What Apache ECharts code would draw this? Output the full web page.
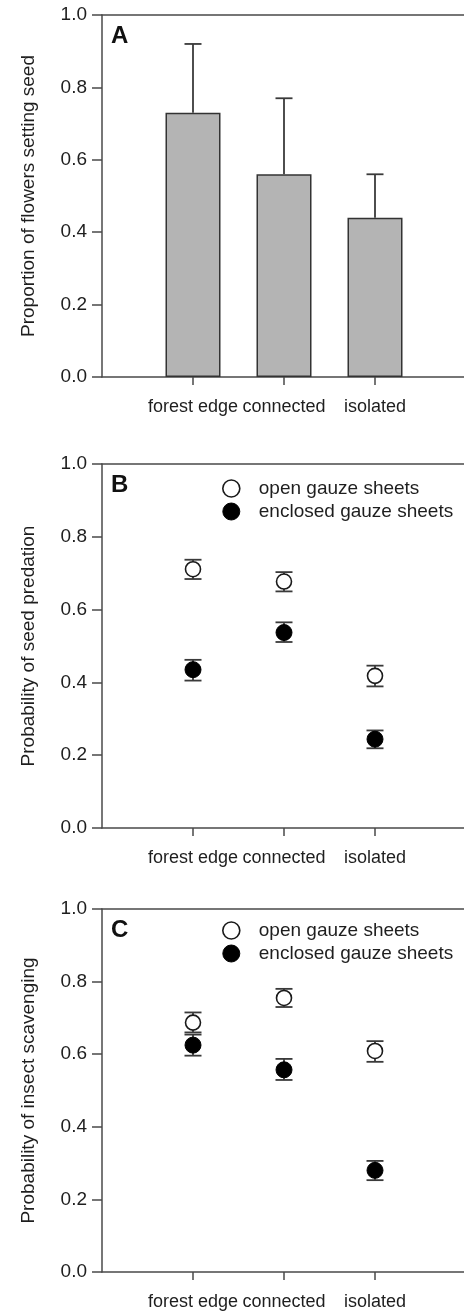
<!DOCTYPE html>
<html>
<head>
<meta charset="utf-8">
<script src="https://cdn.jsdelivr.net/npm/echarts@6/dist/echarts.min.js"></script>
<style>
html,body{margin:0;padding:0;background:#fff;}
#chart{width:464px;height:1311px;}
</style>
</head>
<body>
<div id="chart"></div>
<script>
// ---- data ----
const categories = ['forest edge', 'connected', 'isolated'];
const yTicks = [0, 0.2, 0.4, 0.6, 0.8, 1.0];

// Panel A: proportion of flowers setting seed (mean, upper error)
const seedSetMean = [0.73, 0.56, 0.44];
const seedSetUpper = [0.92, 0.77, 0.56];

// Panel B: probability of seed predation
const predOpenMean = [0.711, 0.677, 0.418];
const predOpenLow = [0.684, 0.650, 0.389];
const predOpenHigh = [0.737, 0.703, 0.446];
const predEnclMean = [0.435, 0.537, 0.244];
const predEnclLow = [0.405, 0.511, 0.219];
const predEnclHigh = [0.462, 0.565, 0.268];

// Panel C: probability of insect scavenging
const scavOpenMean = [0.687, 0.755, 0.609];
const scavOpenLow = [0.660, 0.730, 0.579];
const scavOpenHigh = [0.715, 0.780, 0.636];
const scavEnclMean = [0.625, 0.557, 0.280];
const scavEnclLow = [0.596, 0.529, 0.253];
const scavEnclHigh = [0.654, 0.587, 0.306];

const seriesNames = ['open gauze sheets', 'enclosed gauze sheets'];
const panelLetters = ['A', 'B', 'C'];
const yTitles = ['Proportion of flowers setting seed', 'Probability of seed predation', 'Probability of insect scavenging'];

// ---- styles ----
const FONT = 'Liberation Sans, Arial, Helvetica, sans-serif';
const AXIS_COLOR = '#4a4a4a';
const TEXT_COLOR = '#1e1e1e';
// categories sit at positions 1..n on an x scale running 0..n+1
const catPos = categories.map((c, i) => i + 1);
const grids = [
  {left: 102, top: 15, width: 364, height: 362, outerBoundsMode: 'none', containLabel: false},
  {left: 102, top: 464, width: 364, height: 364, outerBoundsMode: 'none', containLabel: false},
  {left: 102, top: 909, width: 364, height: 363, outerBoundsMode: 'none', containLabel: false}
];

const xAxes = [], yAxes = [];
grids.forEach((g, gi) => {
  xAxes.push({
    type: 'value', gridIndex: gi, min: 0, max: categories.length + 1, interval: 1,
    axisLine: {show: true, lineStyle: {color: AXIS_COLOR, width: 1.5}},
    axisTick: {show: true, customValues: catPos, length: 8, lineStyle: {color: AXIS_COLOR, width: 1.5}},
    axisLabel: {customValues: catPos, showMinLabel: true, showMaxLabel: true, hideOverlap: false,
      fontSize: 18, fontFamily: FONT, color: TEXT_COLOR, margin: 21,
      formatter: v => categories[Math.round(v) - 1] || ''},
    splitLine: {show: false}
  });
  xAxes.push({
    type: 'value', gridIndex: gi, position: 'top', min: 0, max: categories.length + 1,
    axisLine: {show: true, lineStyle: {color: AXIS_COLOR, width: 1.5}},
    axisTick: {show: false}, axisLabel: {show: false}, splitLine: {show: false}
  });
  yAxes.push({
    type: 'value', gridIndex: gi, min: 0, max: 1, interval: 0.2,
    name: yTitles[gi], nameLocation: 'middle', nameGap: 64,
    nameTextStyle: {fontSize: 19, fontFamily: FONT, color: TEXT_COLOR},
    axisLine: {show: true, lineStyle: {color: AXIS_COLOR, width: 1.5}},
    axisTick: {show: true, length: 10, lineStyle: {color: AXIS_COLOR, width: 1.5}},
    axisLabel: {fontSize: 19, fontFamily: FONT, color: TEXT_COLOR, margin: 15,
      formatter: v => v.toFixed(1)},
    splitLine: {show: false}
  });
});

function errRender(showLow) {
  return function (params, api) {
    const x = api.value(0);
    const lo = api.coord([x, api.value(1)]);
    const hi = api.coord([x, api.value(2)]);
    const w = 8.5;
    const st = {stroke: '#3a3a3a', lineWidth: 1.8};
    const children = [
      {type: 'line', shape: {x1: lo[0], y1: lo[1], x2: hi[0], y2: hi[1]}, style: st},
      {type: 'line', shape: {x1: hi[0] - w, y1: hi[1], x2: hi[0] + w, y2: hi[1]}, style: st}
    ];
    if (showLow) {
      children.push({type: 'line', shape: {x1: lo[0] - w, y1: lo[1], x2: lo[0] + w, y2: lo[1]}, style: st});
    }
    return {type: 'group', children};
  };
}

function errData(lo, hi) { return catPos.map((x, i) => [x, lo[i], hi[i]]); }
function ptData(m) { return catPos.map((x, i) => [x, m[i]]); }

const openStyle = {color: '#ffffff', borderColor: '#1a1a1a', borderWidth: 1.6, opacity: 1};
const enclStyle = {color: '#000000', borderColor: '#000000', borderWidth: 1, opacity: 1};

const series = [];
// Panel A
series.push({
  type: 'bar', xAxisIndex: 0, yAxisIndex: 0, data: ptData(seedSetMean), barWidth: 55,
  itemStyle: {color: '#b4b4b4', borderColor: '#333333', borderWidth: 1.5}, z: 2, silent: true
});
series.push({
  type: 'custom', xAxisIndex: 0, yAxisIndex: 0, data: errData(seedSetMean, seedSetUpper),
  renderItem: errRender(false), z: 3, silent: true
});
// Panels B and C
const panels = [
  {gi: 1, oM: predOpenMean, oL: predOpenLow, oH: predOpenHigh, eM: predEnclMean, eL: predEnclLow, eH: predEnclHigh},
  {gi: 2, oM: scavOpenMean, oL: scavOpenLow, oH: scavOpenHigh, eM: scavEnclMean, eL: scavEnclLow, eH: scavEnclHigh}
];
panels.forEach(p => {
  const xi = p.gi * 2, yi = p.gi;
  series.push({type: 'custom', xAxisIndex: xi, yAxisIndex: yi, data: errData(p.oL, p.oH), renderItem: errRender(true), z: 3, silent: true});
  series.push({type: 'custom', xAxisIndex: xi, yAxisIndex: yi, data: errData(p.eL, p.eH), renderItem: errRender(true), z: 3, silent: true});
  series.push({type: 'scatter', name: seriesNames[0], xAxisIndex: xi, yAxisIndex: yi, data: ptData(p.oM), symbol: 'circle', symbolSize: 15, itemStyle: openStyle, z: 5, silent: true});
  series.push({type: 'scatter', name: seriesNames[1], xAxisIndex: xi, yAxisIndex: yi, data: ptData(p.eM), symbol: 'circle', symbolSize: 16, itemStyle: enclStyle, z: 5, silent: true});
});

const legendBase = {
  orient: 'vertical', left: 217, itemWidth: 17, itemHeight: 17, itemGap: 4, selectedMode: false,
  icon: 'circle',
  textStyle: {fontSize: 19, fontFamily: FONT, color: TEXT_COLOR, padding: [0, 0, 0, 14]},
  data: [
    {name: seriesNames[0], itemStyle: openStyle},
    {name: seriesNames[1], itemStyle: enclStyle}
  ]
};

const titles = panelLetters.map((t, i) => ({
  text: t, left: 106, top: grids[i].top + 4,
  textStyle: {fontSize: 24, fontWeight: 'bold', fontFamily: FONT, color: '#111'}
}));

const option = {
  backgroundColor: '#ffffff',
  animation: false,
  title: titles,
  legend: [
    Object.assign({}, legendBase, {top: 474}),
    Object.assign({}, legendBase, {top: 916})
  ],
  grid: grids,
  xAxis: xAxes,
  yAxis: yAxes,
  series
};

const chart = echarts.init(document.getElementById('chart'), null, {renderer: 'canvas'});
chart.setOption(option);
</script>
</body>
</html>
